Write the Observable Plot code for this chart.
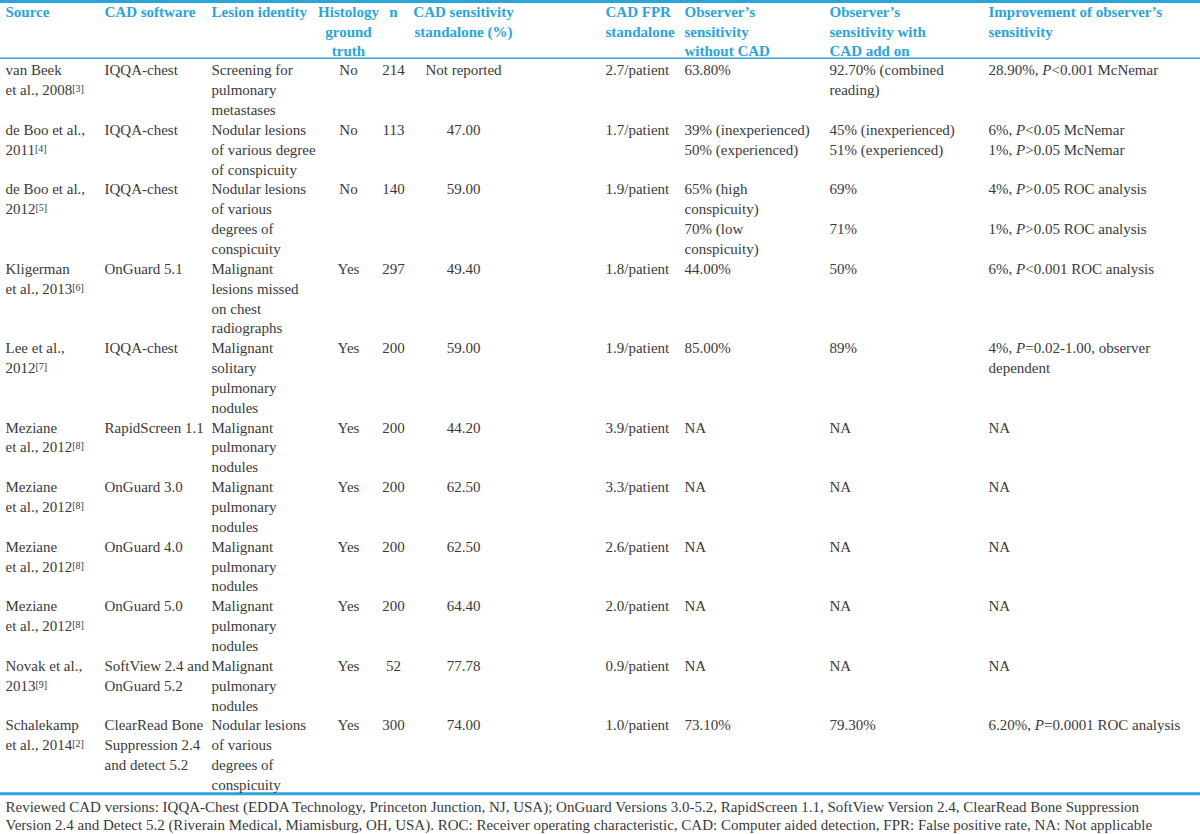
<!DOCTYPE html>
<html><head><meta charset="utf-8">
<script src="https://cdn.jsdelivr.net/npm/d3@7"></script>
<script src="https://cdn.jsdelivr.net/npm/@observablehq/plot@0.6"></script>
<style>html,body{margin:0;padding:0;background:#fff;overflow:hidden}</style>
</head><body><div id="chart"></div>
<script>
// ---- table content ----
const headers = ["Source","CAD software","Lesion identity","Histology\nground\ntruth","n","CAD sensitivity\nstandalone (%)","CAD FPR\nstandalone","Observer’s\nsensitivity\nwithout CAD","Observer’s\nsensitivity with\nCAD add on","Improvement of observer’s\nsensitivity"];
const sources = ["van Beek\net al., 2008[3]","de Boo et al.,\n2011[4]","de Boo et al.,\n2012[5]","Kligerman\net al., 2013[6]","Lee et al.,\n2012[7]","Meziane\net al., 2012[8]","Meziane\net al., 2012[8]","Meziane\net al., 2012[8]","Meziane\net al., 2012[8]","Novak et al.,\n2013[9]","Schalekamp\net al., 2014[2]"];
const software = ["IQQA-chest","IQQA-chest","IQQA-chest","OnGuard 5.1","IQQA-chest","RapidScreen 1.1","OnGuard 3.0","OnGuard 4.0","OnGuard 5.0","SoftView 2.4 and\nOnGuard 5.2","ClearRead Bone\nSuppression 2.4\nand detect 5.2"];
const lesion = ["Screening for\npulmonary\nmetastases","Nodular lesions\nof various degree\nof conspicuity","Nodular lesions\nof various\ndegrees of\nconspicuity","Malignant\nlesions missed\non chest\nradiographs","Malignant\nsolitary\npulmonary\nnodules","Malignant\npulmonary\nnodules","Malignant\npulmonary\nnodules","Malignant\npulmonary\nnodules","Malignant\npulmonary\nnodules","Malignant\npulmonary\nnodules","Nodular lesions\nof various\ndegrees of\nconspicuity"];
const histology = ["No","No","No","Yes","Yes","Yes","Yes","Yes","Yes","Yes","Yes"];
const nValues = [214,113,140,297,200,200,200,200,200,52,300];
const cadSensitivity = ["Not reported","47.00","59.00","49.40","59.00","44.20","62.50","62.50","64.40","77.78","74.00"];
const cadFpr = ["2.7/patient","1.7/patient","1.9/patient","1.8/patient","1.9/patient","3.9/patient","3.3/patient","2.6/patient","2.0/patient","0.9/patient","1.0/patient"];
const obsWithout = ["63.80%","39% (inexperienced)\n50% (experienced)","65% (high\nconspicuity)\n70% (low\nconspicuity)","44.00%","85.00%","NA","NA","NA","NA","NA","73.10%"];
const obsWith = ["92.70% (combined\nreading)","45% (inexperienced)\n51% (experienced)","69%\n\n71%","50%","89%","NA","NA","NA","NA","NA","79.30%"];
const improvement = ["28.90%, P<0.001 McNemar","6%, P<0.05 McNemar\n1%, P>0.05 McNemar","4%, P>0.05 ROC analysis\n\n1%, P>0.05 ROC analysis","6%, P<0.001 ROC analysis","4%, P=0.02-1.00, observer\ndependent","NA","NA","NA","NA","NA","6.20%, P=0.0001 ROC analysis"];
const footnoteLines = [
  "Reviewed CAD versions: IQQA-Chest (EDDA Technology, Princeton Junction, NJ, USA); OnGuard Versions 3.0-5.2, RapidScreen 1.1, SoftView Version 2.4, ClearRead Bone Suppression",
  "Version 2.4 and Detect 5.2 (Riverain Medical, Miamisburg, OH, USA). ROC: Receiver operating characteristic, CAD: Computer aided detection, FPR: False positive rate, NA: Not applicable"
];
const columnAlign = ["start","start","start","middle","middle","middle","start","start","start","start"];

// ---- build cell table (one datum per text line) ----
const columns = [sources, software, lesion, histology, nValues, cadSensitivity, cadFpr, obsWithout, obsWith, improvement];
const cells = [];
let start = 0;
for (let r = 0; r < sources.length; r++) {
  let maxLines = 0;
  columns.forEach((col, c) => {
    const lines = String(col[r]).split("\n");
    maxLines = Math.max(maxLines, lines.length);
    lines.forEach((t, i) => { if (t) cells.push({col: c, line: start + i, text: t, align: columnAlign[c]}); });
  });
  start += maxLines;
}
const totalLines = start;
const headerTop = -2.95;
const headCells = [];
headers.forEach((h, c) => h.split("\n").forEach((t, i) => headCells.push({col: c, line: headerTop + i, text: t, align: columnAlign[c]})));
const foot = footnoteLines.map((t, i) => ({col: 0, line: totalLines + 0.13 + i * 0.91, text: t}));
const rules = [
  {line: headerTop - 0.53, w: 3},
  {line: -0.62, w: 1.5},
  {line: totalLines - 0.57, w: 3}
];

const BLUE = "#2ba4d9", INK = "#3a3a3a";
const FONT = "Liberation Serif";

const chart = Plot.plot({
  width: 1200, height: 834,
  margin: 0,
  style: {fontFamily: FONT, fontSize: "15px", background: "#fff"},
  x: {type: "linear", domain: d3.range(10), range: [5,104,211,348,393,463,605,684,829,988], axis: null},
  y: {type: "linear", domain: [0, 37], range: [70, 70 + 37 * 19.85], axis: null},
  marks: [
    Plot.ruleY(rules, {y: "line", stroke: BLUE, strokeWidth: "w"}),
    Plot.text(headCells.filter(d => d.align === "start"), {x: "col", y: "line", text: "text", textAnchor: "start", fill: BLUE, fontWeight: "bold", fontSize: 15, ariaLabel: "header"}),
    Plot.text(headCells.filter(d => d.align === "middle"), {x: "col", y: "line", text: "text", textAnchor: "middle", fill: BLUE, fontWeight: "bold", fontSize: 15, ariaLabel: "header"}),
    Plot.text(cells.filter(d => d.align === "start"), {x: "col", y: "line", text: "text", textAnchor: "start", fill: INK, fontSize: 15, ariaLabel: "body"}),
    Plot.text(cells.filter(d => d.align === "middle"), {x: "col", y: "line", text: "text", textAnchor: "middle", fill: INK, fontSize: 15, ariaLabel: "body"}),
    Plot.text(foot, {x: "col", y: "line", text: "text", textAnchor: "start", fill: INK, fontSize: 15, ariaLabel: "footnote"})
  ]
});
document.getElementById("chart").appendChild(chart);

// ---- typographic touches: superscript references, italic P and n ----
const NS = "http://www.w3.org/2000/svg";
chart.querySelectorAll("text").forEach(el => {
  const t = el.textContent;
  if (el.closest('g[aria-label="header"]') && t === "n") { el.setAttribute("font-style", "italic"); return; }
  const re = /\[\d+\]|\bP(?=[<>=])/g;
  if (!re.test(t)) return;
  re.lastIndex = 0;
  el.textContent = "";
  let last = 0, m;
  while ((m = re.exec(t))) {
    if (m.index > last) el.appendChild(document.createTextNode(t.slice(last, m.index)));
    const span = document.createElementNS(NS, "tspan");
    span.textContent = m[0];
    if (m[0] === "P") span.setAttribute("font-style", "italic");
    else { span.setAttribute("font-size", "10"); span.setAttribute("baseline-shift", "35%"); }
    el.appendChild(span);
    last = m.index + m[0].length;
  }
  if (last < t.length) el.appendChild(document.createTextNode(t.slice(last)));
});
chart.querySelectorAll('g[aria-label="footnote"] text').forEach(el => {
  el.setAttribute("textLength", 1192);
  el.setAttribute("lengthAdjust", "spacing");
});
</script>
</body></html>
